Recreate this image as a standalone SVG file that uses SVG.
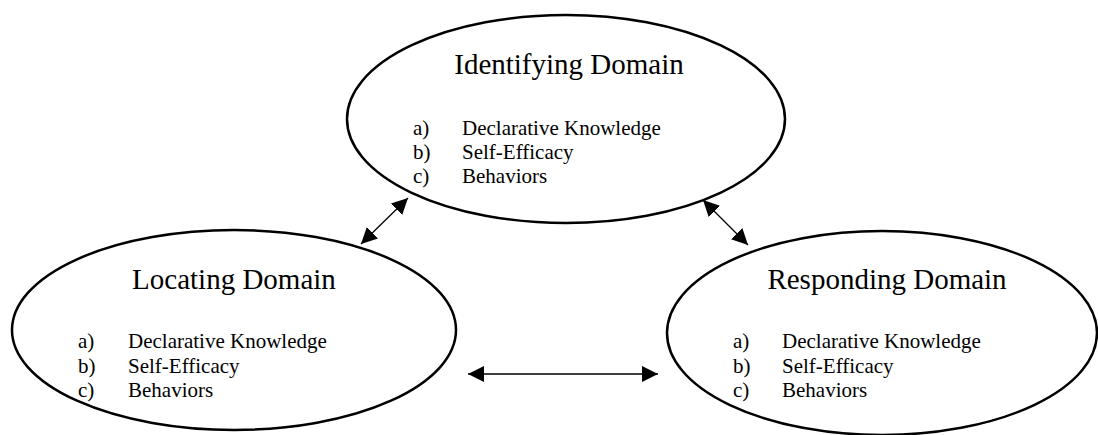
<svg xmlns="http://www.w3.org/2000/svg" width="1098" height="435" viewBox="0 0 1098 435">
<style>
.node ellipse{fill:#fff;stroke:#000;stroke-width:2.5}
text{font-family:"Liberation Serif","Times New Roman",serif;fill:#000}
.title{font-size:29px;text-anchor:middle}
.item{font-size:21px}
.conn line{stroke:#000;stroke-width:1.3;marker-start:url(#ah);marker-end:url(#ah)}
</style>
<defs>
<marker id="ah" markerUnits="userSpaceOnUse" markerWidth="17" markerHeight="16" refX="16" refY="8" orient="auto-start-reverse">
<path d="M0,0 L16,8 L0,16 z" fill="#000"/>
</marker>
</defs>
<g id="identifying" class="node">
<ellipse cx="566" cy="119" rx="219" ry="104"/>
<text class="title" x="569" y="74">Identifying Domain</text>
<text class="item" x="413" y="135">a)</text><text class="item" x="462" y="135">Declarative Knowledge</text>
<text class="item" x="413" y="159">b)</text><text class="item" x="462" y="159">Self-Efficacy</text>
<text class="item" x="413" y="183">c)</text><text class="item" x="462" y="183">Behaviors</text>
</g>
<g id="locating" class="node">
<ellipse cx="234" cy="330" rx="222" ry="100"/>
<text class="title" x="234" y="289">Locating Domain</text>
<text class="item" x="78" y="348">a)</text><text class="item" x="128" y="348">Declarative Knowledge</text>
<text class="item" x="78" y="373">b)</text><text class="item" x="128" y="373">Self-Efficacy</text>
<text class="item" x="78" y="397">c)</text><text class="item" x="128" y="397">Behaviors</text>
</g>
<g id="responding" class="node">
<ellipse cx="882" cy="333" rx="215" ry="102"/>
<text class="title" x="887" y="289">Responding Domain</text>
<text class="item" x="733" y="348">a)</text><text class="item" x="782" y="348">Declarative Knowledge</text>
<text class="item" x="733" y="373">b)</text><text class="item" x="782" y="373">Self-Efficacy</text>
<text class="item" x="733" y="397">c)</text><text class="item" x="782" y="397">Behaviors</text>
</g>
<g id="connectors" class="conn">
<line x1="361" y1="244" x2="408" y2="198"/>
<line x1="703" y1="200" x2="748" y2="245"/>
<line x1="468" y1="374" x2="658" y2="374"/>
</g>
</svg>
